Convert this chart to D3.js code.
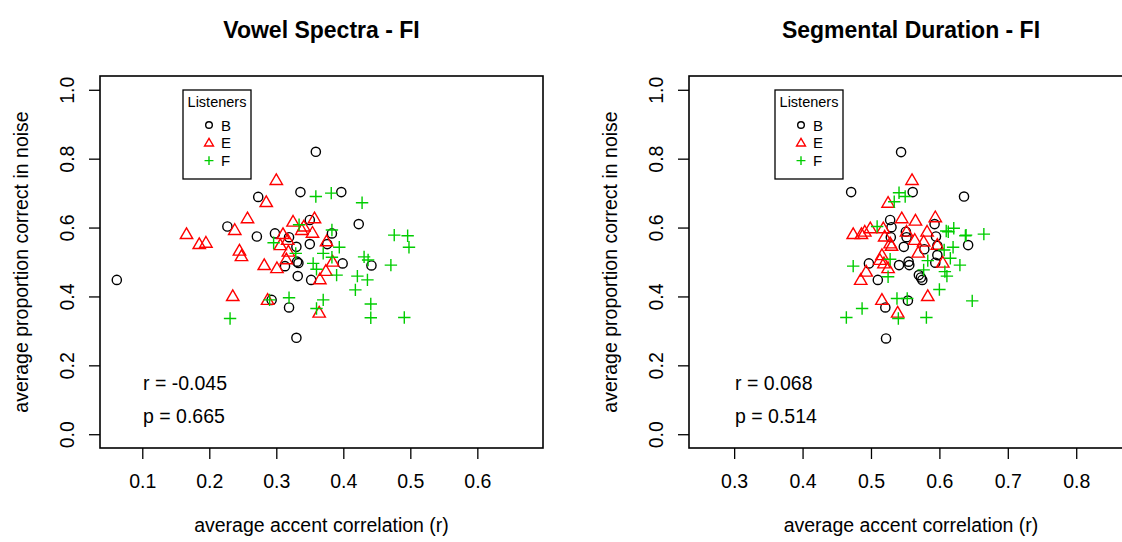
<!DOCTYPE html>
<html><head><meta charset="utf-8">
<script src="https://cdn.jsdelivr.net/npm/d3@7"></script>
<style>body{margin:0;background:#fff}text{font-family:"Liberation Sans",Arial,sans-serif}</style>
</head><body><svg id="c" width="1122" height="542"></svg>
<script>
// ---- data ----
const yTicks = [0.0, 0.2, 0.4, 0.6, 0.8, 1.0];
const vowelXTicks = [0.1, 0.2, 0.3, 0.4, 0.5, 0.6];
const durXTicks = [0.3, 0.4, 0.5, 0.6, 0.7, 0.8];
const legendLabels = ["B", "E", "F"];
const titles = ["Vowel Spectra - FI", "Segmental Duration - FI"];
const statsVowel = ["r = -0.045", "p = 0.665"];
const statsDur = ["r = 0.068", "p = 0.514"];

const vowelB = [[0.062,0.448],[0.227,0.603],[0.273,0.689],[0.359,0.82],[0.336,0.703],[0.397,0.703],[0.423,0.61],[0.350,0.622],[0.271,0.574],[0.298,0.583],[0.319,0.572],[0.330,0.544],[0.350,0.552],[0.313,0.488],[0.331,0.501],[0.333,0.497],[0.332,0.459],[0.352,0.448],[0.376,0.552],[0.383,0.583],[0.399,0.496],[0.442,0.49],[0.293,0.39],[0.319,0.368],[0.330,0.28]];
const vowelE = [[0.300,0.738],[0.285,0.674],[0.257,0.627],[0.325,0.617],[0.357,0.627],[0.166,0.581],[0.185,0.552],[0.195,0.556],[0.238,0.593],[0.245,0.533],[0.248,0.517],[0.282,0.491],[0.301,0.482],[0.310,0.581],[0.317,0.564],[0.306,0.549],[0.338,0.593],[0.341,0.603],[0.354,0.585],[0.318,0.53],[0.315,0.508],[0.375,0.560],[0.384,0.501],[0.374,0.474],[0.365,0.45],[0.235,0.401],[0.287,0.39],[0.364,0.353]];
const vowelF = [[0.359,0.69],[0.382,0.70],[0.334,0.608],[0.296,0.556],[0.329,0.525],[0.370,0.525],[0.383,0.514],[0.355,0.496],[0.360,0.479],[0.390,0.462],[0.290,0.39],[0.319,0.396],[0.370,0.39],[0.360,0.365],[0.231,0.336],[0.428,0.672],[0.383,0.593],[0.476,0.578],[0.496,0.576],[0.498,0.543],[0.394,0.543],[0.431,0.515],[0.437,0.506],[0.471,0.491],[0.421,0.459],[0.436,0.448],[0.418,0.419],[0.441,0.378],[0.441,0.338],[0.491,0.339]];

const durB = [[0.544,0.819],[0.471,0.703],[0.561,0.703],[0.636,0.69],[0.528,0.622],[0.530,0.601],[0.551,0.588],[0.593,0.61],[0.595,0.574],[0.529,0.572],[0.548,0.544],[0.578,0.537],[0.597,0.547],[0.597,0.52],[0.594,0.498],[0.642,0.549],[0.497,0.496],[0.510,0.448],[0.541,0.491],[0.555,0.501],[0.556,0.491],[0.570,0.462],[0.573,0.455],[0.575,0.448],[0.554,0.388],[0.521,0.368],[0.522,0.278],[0.552,0.572]];
const durE = [[0.560,0.738],[0.525,0.672],[0.545,0.627],[0.565,0.62],[0.594,0.63],[0.499,0.598],[0.518,0.598],[0.474,0.581],[0.486,0.581],[0.491,0.588],[0.582,0.588],[0.520,0.574],[0.528,0.554],[0.530,0.547],[0.564,0.564],[0.577,0.559],[0.569,0.527],[0.597,0.55],[0.605,0.498],[0.516,0.52],[0.513,0.506],[0.519,0.496],[0.525,0.482],[0.493,0.472],[0.485,0.448],[0.583,0.401],[0.516,0.39],[0.539,0.353],[0.552,0.588]];
const durF = [[0.541,0.701],[0.550,0.69],[0.534,0.675],[0.621,0.598],[0.613,0.588],[0.509,0.603],[0.638,0.576],[0.639,0.578],[0.665,0.581],[0.620,0.543],[0.607,0.535],[0.616,0.511],[0.630,0.491],[0.608,0.472],[0.611,0.459],[0.600,0.42],[0.648,0.387],[0.474,0.488],[0.525,0.457],[0.528,0.508],[0.577,0.477],[0.583,0.504],[0.553,0.394],[0.538,0.394],[0.540,0.336],[0.487,0.365],[0.464,0.339],[0.581,0.339],[0.610,0.590]];

// ---- drawing ----
const svg = d3.select("#c");
const colors = {B:"#000000", E:"#ff0000", F:"#00cd00"};
const FS = 19.5;

function symbol(g, type, x, y, s) {
  if (type === "B") {
    g.append("circle").attr("cx", x).attr("cy", y).attr("r", 4.6*s)
      .attr("fill","none").attr("stroke",colors.B).attr("stroke-width",1.4);
  } else if (type === "E") {
    const h = 6.2*s;
    g.append("path").attr("d", `M${x},${y-h}L${x+h*1.0},${y+h*0.72}L${x-h*1.0},${y+h*0.72}Z`)
      .attr("fill","none").attr("stroke",colors.E).attr("stroke-width",1.4);
  } else {
    const a = 6.2*s;
    g.append("path").attr("d", `M${x-a},${y}H${x+a}M${x},${y-a}V${y+a}`)
      .attr("fill","none").attr("stroke",colors.F).attr("stroke-width",1.4);
  }
}

function panel(opt) {
  const g = svg.append("g");
  const x = d3.scaleLinear().domain(opt.xdom).range([opt.left, opt.right]);
  const y = d3.scaleLinear().domain([-0.04, 1.04]).range([448, 76]);
  g.append("rect").attr("x", opt.left).attr("y", 76).attr("width", opt.right-opt.left).attr("height", 372)
    .attr("fill","none").attr("stroke","#000").attr("stroke-width",1.6);
  // x axis
  const xa = g.append("g").attr("transform","translate(0,448)")
    .call(d3.axisBottom(x).tickValues(opt.xticks).tickSize(11).tickPadding(15).tickFormat(d3.format(".1f")));
  xa.select(".domain").remove();
  xa.selectAll("line").attr("stroke","#000").attr("stroke-width",1.3);
  xa.selectAll("text").attr("font-size",FS).attr("fill","#000").attr("font-family","Liberation Sans, Arial, sans-serif");
  // y axis
  const ya = g.append("g").attr("transform",`translate(${opt.left},0)`)
    .call(d3.axisLeft(y).tickValues(yTicks).tickSize(11).tickFormat(d3.format(".1f")));
  ya.select(".domain").remove();
  ya.selectAll("line").attr("stroke","#000").attr("stroke-width",1.3);
  ya.selectAll("text").attr("font-size",FS).attr("fill","#000").attr("font-family","Liberation Sans, Arial, sans-serif")
    .attr("x", null).attr("dy", null)
    .attr("text-anchor","middle")
    .attr("transform", `translate(-33,0) rotate(-90)`)
    .attr("y", 7);
  // titles
  g.append("text").attr("x", (opt.left+opt.right)/2).attr("y", 38).attr("text-anchor","middle")
    .attr("font-size",23).attr("font-weight","bold").text(opt.title);
  g.append("text").attr("x", (opt.left+opt.right)/2).attr("y", 532)
    .attr("text-anchor","middle").attr("font-size",FS).text("average accent correlation (r)");
  g.append("text").attr("transform", `translate(${opt.left-72},${(76+448)/2}) rotate(-90)`)
    .attr("text-anchor","middle").attr("font-size",FS).text("average proportion correct in noise");
  // stats
  g.append("text").attr("x", opt.statX).attr("y", 390).attr("font-size",FS).text(opt.stats[0]);
  g.append("text").attr("x", opt.statX).attr("y", 423).attr("font-size",FS).text(opt.stats[1]);
  // points
  const pts = g.append("g");
  opt.data.B.forEach(d => symbol(pts, "B", x(d[0]), y(d[1]), 1));
  opt.data.E.forEach(d => symbol(pts, "E", x(d[0]), y(d[1]), 1));
  opt.data.F.forEach(d => symbol(pts, "F", x(d[0]), y(d[1]), 1));
  // legend
  const lg = g.append("g").attr("transform", `translate(${opt.legX},90)`);
  lg.append("rect").attr("x",0).attr("y",0).attr("width",68).attr("height",89)
    .attr("fill","#fff").attr("stroke","#000").attr("stroke-width",1.3);
  lg.append("text").attr("x",34).attr("y",17).attr("text-anchor","middle").attr("font-size",14.5).text("Listeners");
  legendLabels.forEach((k,i) => {
    const yy = 35 + i*17.8;
    symbol(lg, k, 26, yy, 0.72);
    lg.append("text").attr("x",38).attr("y",yy+5.5).attr("font-size",15).text(k);
  });
}

panel({left:100, right:543, xdom:[0.0369, 0.698], xticks:vowelXTicks, title:titles[0],
  stats:statsVowel, statX:143, legX:183, data:{B:vowelB, E:vowelE, F:vowelF}});
panel({left:689, right:1133, xdom:[0.234, 0.883], xticks:durXTicks, title:titles[1],
  stats:statsDur, statX:735, legX:775, data:{B:durB, E:durE, F:durF}});
</script></body></html>
